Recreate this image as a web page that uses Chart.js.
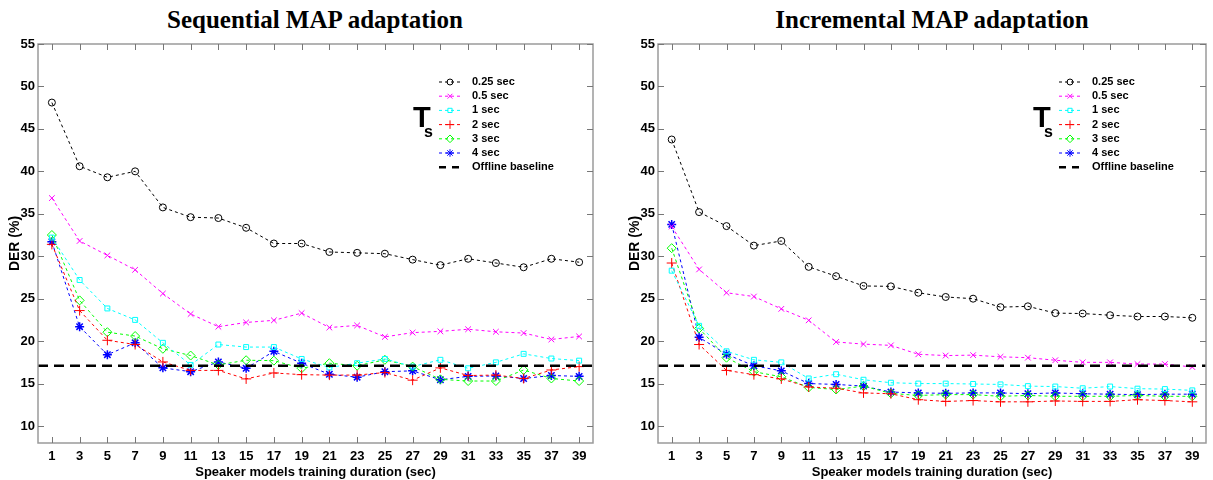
<!DOCTYPE html>
<html>
<head>
<meta charset="utf-8">
<script src="https://cdn.jsdelivr.net/npm/chart.js"></script>
<style>
  body { margin: 0; background: #fff; width: 1213px; height: 480px; position: relative; overflow: hidden; }
  .titulo { position: absolute; top: 7px; font: bold 25px 'Liberation Serif', 'Times New Roman', serif; line-height: 1; white-space: nowrap; transform: translateX(-50%); color: #000; }
  .caja { position: absolute; top: 0; height: 480px; }
</style>
</head>
<body>
<div class="titulo" style="left:315px">Sequential MAP adaptation</div>
<div class="titulo" style="left:932px">Incremental MAP adaptation</div>
<div class="caja" style="left:0; width:606px"><canvas id="graficoSecuencial"></canvas></div>
<div class="caja" style="left:606px; width:607px"><canvas id="graficoIncremental"></canvas></div>
<script>
// Datos
const duraciones = [1, 3, 5, 7, 9, 11, 13, 15, 17, 19, 21, 23, 25, 27, 29, 31, 33, 35, 37, 39];
const ticksY = [10, 15, 20, 25, 30, 35, 40, 45, 50, 55];
const etiquetas = ['0.25 sec', '0.5 sec', '1 sec', '2 sec', '3 sec', '4 sec'];
const etiquetaBaseline = 'Offline baseline';
const baselineDER = 17.1;
const baselineX = [0, 40];

// Sequential MAP adaptation
const seq025 = [48.1, 40.6, 39.3, 40.0, 35.75, 34.6, 34.5, 33.35, 31.5, 31.5, 30.5, 30.4, 30.3, 29.6, 28.95, 29.7, 29.2, 28.7, 29.7, 29.3];
const seq05 = [36.85, 31.8, 30.1, 28.4, 25.6, 23.2, 21.7, 22.2, 22.45, 23.3, 21.6, 21.85, 20.5, 21.0, 21.15, 21.4, 21.1, 20.95, 20.2, 20.55];
const seq1 = [32.2, 27.2, 23.85, 22.5, 19.8, 17.2, 19.6, 19.3, 19.3, 17.9, 16.9, 17.4, 17.9, 17.0, 17.8, 16.8, 17.5, 18.5, 17.95, 17.7];
const seq2 = [31.4, 23.6, 20.1, 19.6, 17.55, 16.55, 16.55, 15.55, 16.25, 16.05, 16.0, 16.0, 16.3, 15.4, 16.85, 15.95, 16.0, 15.6, 16.6, 17.0];
const seq3 = [32.5, 24.8, 21.05, 20.6, 19.1, 18.3, 17.2, 17.75, 17.7, 16.8, 17.4, 17.1, 17.8, 17.0, 15.5, 15.3, 15.3, 16.6, 15.6, 15.3];
const seq4 = [31.7, 21.7, 18.4, 19.8, 16.85, 16.4, 17.55, 16.8, 18.8, 17.4, 16.1, 15.75, 16.4, 16.5, 15.45, 15.85, 15.9, 15.6, 15.95, 15.85];

// Incremental MAP adaptation
const inc025 = [43.75, 35.2, 33.55, 31.25, 31.8, 28.75, 27.65, 26.5, 26.45, 25.7, 25.2, 25.0, 24.0, 24.1, 23.3, 23.25, 23.05, 22.9, 22.9, 22.75];
const inc05 = [33.5, 28.45, 25.7, 25.25, 23.8, 22.45, 19.9, 19.65, 19.5, 18.45, 18.3, 18.35, 18.15, 18.05, 17.75, 17.5, 17.5, 17.3, 17.3, 16.95];
const inc1 = [28.3, 21.8, 18.8, 17.8, 17.5, 15.6, 16.1, 15.45, 15.1, 15.0, 15.0, 14.95, 14.9, 14.7, 14.65, 14.45, 14.65, 14.4, 14.35, 14.2];
const inc2 = [29.2, 19.6, 16.55, 16.05, 15.55, 14.6, 14.45, 13.9, 13.8, 13.1, 12.9, 13.0, 12.85, 12.85, 12.95, 12.9, 12.9, 13.1, 13.0, 12.85];
const inc3 = [30.95, 21.5, 18.05, 16.4, 15.8, 14.55, 14.3, 14.7, 13.85, 13.6, 13.7, 13.7, 13.5, 13.6, 13.5, 13.5, 13.5, 13.6, 13.5, 13.5];
const inc4 = [33.75, 20.45, 18.45, 17.1, 16.5, 15.0, 14.9, 14.7, 14.0, 13.9, 13.85, 13.9, 13.9, 13.8, 13.9, 13.8, 13.75, 13.7, 13.75, 13.75];

const colores = ['#000000', '#ff00ff', '#00ffff', '#ff0000', '#00ff00', '#0000ff'];
const marcadores = ['circle', 'crossRot', 'rect', 'cross', 'rectRot', 'star'];
const radios = [3.5, 4, 3.5, 5, 4.5, 4.5];

const fuenteEjes = "'Liberation Sans', Arial, sans-serif";

// Marco gris con marcas hacia dentro (estilo Matlab) y leyenda dentro del area
const marcoPlugin = {
    id: 'marco',
    afterDraw(chart) {
        const { ctx, chartArea: a, scales } = chart;
        ctx.save();
        ctx.strokeStyle = '#9a9a9a';
        ctx.lineWidth = 1.5;
        ctx.strokeRect(a.left, a.top, a.right - a.left, a.bottom - a.top);
        ctx.strokeStyle = '#777';
        ctx.lineWidth = 1;
        ctx.beginPath();
        duraciones.forEach(v => {
            const x = Math.round(scales.x.getPixelForValue(v)) + 0.5;
            ctx.moveTo(x, a.top); ctx.lineTo(x, a.top + 6);
            ctx.moveTo(x, a.bottom); ctx.lineTo(x, a.bottom - 6);
        });
        ticksY.forEach(v => {
            const y = Math.round(scales.y.getPixelForValue(v)) + 0.5;
            ctx.moveTo(a.left, y); ctx.lineTo(a.left + 6, y);
            ctx.moveTo(a.right, y); ctx.lineTo(a.right - 6, y);
        });
        ctx.stroke();

        // Leyenda
        const x0 = a.left + 401;
        const y0 = a.top + 38;
        const paso = 14.2;
        ctx.textBaseline = 'middle';
        etiquetas.forEach((texto, i) => {
            const y = y0 + i * paso;
            ctx.strokeStyle = colores[i];
            ctx.lineWidth = 1;
            ctx.setLineDash([3, 3]);
            ctx.beginPath();
            ctx.moveTo(x0, y); ctx.lineTo(x0 + 22, y);
            ctx.stroke();
            ctx.setLineDash([]);
            ctx.fillStyle = 'rgba(0,0,0,0)';
            Chart.helpers.drawPoint(ctx, { pointStyle: marcadores[i], radius: radios[i] * 0.85, rotation: 0, borderWidth: 1 }, x0 + 11, y);
            ctx.fillStyle = '#000';
            ctx.font = "bold 11px " + fuenteEjes;
            ctx.fillText(texto, x0 + 33, y);
        });
        const yb = y0 + 6 * paso;
        ctx.strokeStyle = '#000';
        ctx.lineWidth = 2.5;
        ctx.setLineDash([7, 6]);
        ctx.beginPath();
        ctx.moveTo(x0, yb); ctx.lineTo(x0 + 22, yb);
        ctx.stroke();
        ctx.setLineDash([]);
        ctx.fillText(etiquetaBaseline, x0 + 33, yb);

        // T subindice s
        ctx.textBaseline = 'alphabetic';
        ctx.font = "bold 29px " + fuenteEjes;
        ctx.fillText('T', x0 - 26, a.top + 83);
        ctx.font = "bold 16px " + fuenteEjes;
        ctx.fillText('s', x0 - 15, a.top + 93);
        ctx.restore();
    }
};

function crearGrafico(idCanvas, series, padIzq, padDer) {
    const ctx = document.getElementById(idCanvas).getContext('2d');

    const datasets = [{
        label: etiquetaBaseline,
        data: baselineX.map(x => ({ x: x, y: baselineDER })),
        borderColor: '#000',
        borderWidth: 2.5,
        borderDash: [10, 6],
        pointRadius: 0,
        fill: false
    }];

    series.forEach((valores, i) => {
        datasets.push({
            label: etiquetas[i],
            data: duraciones.map((d, j) => ({ x: d, y: valores[j] })),
            borderColor: colores[i],
            borderWidth: 1,
            borderDash: [3, 3],
            pointStyle: marcadores[i],
            pointRadius: radios[i],
            pointBorderColor: colores[i],
            pointBackgroundColor: 'transparent',
            pointBorderWidth: i === 5 ? 1.5 : 1,
            fill: false,
            tension: 0
        });
    });

    return new Chart(ctx, {
        type: 'scatter',
        data: { datasets: datasets },
        options: {
            responsive: true,
            maintainAspectRatio: false,
            animation: false,
            showLine: true,
            layout: { padding: { top: 44, left: padIzq, right: padDer, bottom: 0 } },
            plugins: {
                legend: { display: false },
                tooltip: { enabled: false },
                title: { display: false }
            },
            scales: {
                x: {
                    type: 'linear',
                    min: 0,
                    max: 40,
                    afterBuildTicks: scale => { scale.ticks = duraciones.map(v => ({ value: v })); },
                    afterFit: scale => { scale.height = 37; },
                    grid: { display: false, drawTicks: false },
                    border: { display: false },
                    ticks: {
                        padding: 6,
                        autoSkip: false,
                        maxRotation: 0,
                        color: '#000',
                        font: { family: fuenteEjes, size: 13, weight: 'bold' }
                    },
                    title: {
                        display: true,
                        text: 'Speaker models training duration (sec)',
                        color: '#000',
                        padding: { top: 0, bottom: 0 },
                        font: { family: fuenteEjes, size: 13, weight: 'bold', lineHeight: 1.2 }
                    }
                },
                y: {
                    type: 'linear',
                    min: 8,
                    max: 55,
                    afterBuildTicks: scale => { scale.ticks = ticksY.map(v => ({ value: v })); },
                    afterFit: scale => { scale.width = 38; },
                    grid: { display: false, drawTicks: false },
                    border: { display: false },
                    ticks: {
                        padding: 3,
                        color: '#000',
                        font: { family: fuenteEjes, size: 13, weight: 'bold' }
                    },
                    title: {
                        display: true,
                        text: 'DER (%)',
                        color: '#000',
                        padding: { top: 7, bottom: 0 },
                        font: { family: fuenteEjes, size: 14, weight: 'bold', lineHeight: 1.2 }
                    }
                }
            }
        },
        plugins: [marcoPlugin]
    });
}

crearGrafico('graficoSecuencial', [seq025, seq05, seq1, seq2, seq3, seq4], 0, 13);
crearGrafico('graficoIncremental', [inc025, inc05, inc1, inc2, inc3, inc4], 14, 7);
</script>
</body>
</html>
